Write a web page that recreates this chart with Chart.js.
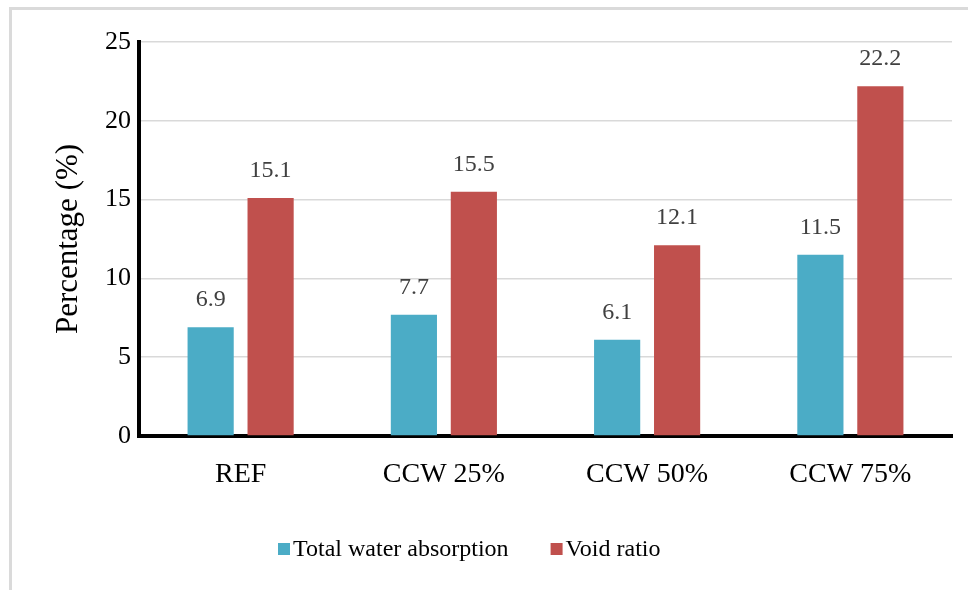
<!DOCTYPE html>
<html>
<head>
<meta charset="utf-8">
<script src="https://cdn.jsdelivr.net/npm/chart.js@4/dist/chart.umd.min.js"></script>
<style>
  html, body { margin: 0; padding: 0; background: #fff; }
  #wrap { position: relative; width: 968px; height: 590px; overflow: hidden; }
  #frame { position: absolute; left: 9px; top: 7px; width: 1200px; height: 800px;
           border-left: 3px solid #dadada; border-top: 3px solid #dadada; }
  canvas { position: absolute; left: 0; top: 0; }
</style>
</head>
<body>
<div id="wrap">
  <div id="frame"></div>
  <canvas id="chart" width="968" height="590"></canvas>
</div>
<script>
const categories = ["REF", "CCW 25%", "CCW 50%", "CCW 75%"];
const waterAbsorption = [6.9, 7.7, 6.1, 11.5];
const voidRatio = [15.1, 15.5, 12.1, 22.2];
const yTicks = [0, 5, 10, 15, 20, 25];

const serif = "'Liberation Serif', 'Times New Roman', serif";

// value labels above each bar
const valueLabels = {
    id: 'valueLabels',
    afterDatasetsDraw(chart){
        const ctx = chart.ctx;
        ctx.save();
        ctx.font = `24px ${serif}`;
        ctx.fillStyle = '#404040';
        ctx.textAlign = 'center';
        ctx.textBaseline = 'alphabetic';
        chart.data.datasets.forEach((ds, i) => {
            chart.getDatasetMeta(i).data.forEach((bar, j) => {
                ctx.fillText(ds.data[j].toFixed(1), bar.x, bar.y - 21);
            });
        });
        ctx.restore();
    }
};

// legend drawn by hand so the box/text spacing matches
const bottomLegend = {
    id: 'bottomLegend',
    afterDraw(chart){
        const ctx = chart.ctx;
        ctx.save();
        ctx.font = `24px ${serif}`;
        ctx.textBaseline = 'middle';
        let x = 278;
        const y = 549;
        chart.data.datasets.forEach(ds => {
            ctx.fillStyle = ds.backgroundColor;
            ctx.fillRect(x, y - 6, 12, 12);
            ctx.fillStyle = '#000';
            ctx.fillText(ds.label, x + 15, y + 1);
            x += 15 + ctx.measureText(ds.label).width + 42;
        });
        ctx.restore();
    }
};

let ctx = document.getElementById('chart');

let myChart = new Chart(ctx, {
    type: 'bar',
    data: {
        labels: categories,
        datasets: [{
            label: 'Total water absorption',
            data: waterAbsorption,
            backgroundColor: '#4BACC6'
        },{
            label: 'Void ratio',
            data: voidRatio,
            backgroundColor: '#C0504D'
        }]
    },
    options: {
        responsive: false,
        animation: false,
        layout: {
            padding: { top: 42, left: 0, right: 16, bottom: 84 }
        },
        datasets: {
            bar: {
                categoryPercentage: 0.59,
                barPercentage: 0.77
            }
        },
        scales: {
            x: {
                grid: { display: false, drawTicks: false },
                border: { color: '#000', width: 4 },
                ticks: {
                    color: '#000',
                    padding: 22,
                    font: { family: serif, size: 28 }
                },
                afterFit: function(scale){ scale.height = 70; }
            },
            y: {
                min: 0,
                max: 25,
                afterBuildTicks: function(scale){
                    scale.ticks = yTicks.map(v => ({ value: v }));
                },
                grid: { color: '#d9d9d9', lineWidth: 1.5, drawTicks: false },
                border: { color: '#000', width: 4 },
                ticks: {
                    color: '#000',
                    padding: 8,
                    font: { family: serif, size: 26 }
                },
                title: {
                    display: true,
                    text: 'Percentage (%)',
                    color: '#000',
                    padding: { top: 50, bottom: 0 },
                    font: { family: serif, size: 31 }
                },
                afterFit: function(scale){ scale.width = 139; }
            }
        },
        plugins: {
            legend: { display: false },
            tooltip: { enabled: false }
        }
    },
    plugins: [valueLabels, bottomLegend]
});
</script>
</body>
</html>
